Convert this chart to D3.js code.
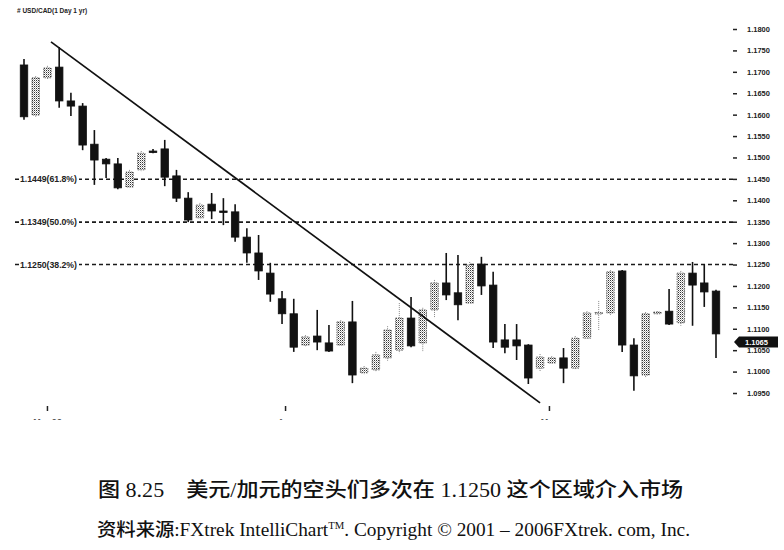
<!DOCTYPE html>
<html><head><meta charset="utf-8">
<script src="https://cdn.jsdelivr.net/npm/d3@7"></script>
<style>body{margin:0;background:#fff}svg{display:block}</style>
</head><body><svg id="c" width="784" height="550"></svg>
<script>
// ---------- data ----------
const opens  = [1.1716,1.1599,1.1686,1.1711,1.1632,1.1620,1.1531,1.1496,1.1485,1.1431,1.1471,1.1515,1.1520,1.1457,1.1405,1.1359,1.1391,1.1375,1.1373,1.1314,1.1277,1.1230,1.1170,1.1135,1.1062,1.1083,1.1067,1.1062,1.1116,1.0997,1.1004,1.1032,1.1050,1.1125,1.1067,1.1144,1.1207,1.1184,1.1160,1.1251,1.1202,1.1074,1.1074,1.1062,1.1008,1.1020,1.1032,1.1008,1.1078,1.1137,1.1137,1.1235,1.1062,1.0992,1.1135,1.1141,1.1114,1.1230,1.1207,1.1188];
const highs  = [1.1730,1.1690,1.1714,1.1758,1.1651,1.1627,1.1564,1.1499,1.1499,1.1471,1.1515,1.1520,1.1541,1.1471,1.1419,1.1394,1.1417,1.1405,1.1391,1.1335,1.1319,1.1254,1.1188,1.1170,1.1085,1.1144,1.1109,1.1120,1.1165,1.1013,1.1046,1.1106,1.1160,1.1174,1.1149,1.1214,1.1277,1.1272,1.1256,1.1268,1.1233,1.1111,1.1111,1.1064,1.1041,1.1036,1.1055,1.1083,1.1141,1.1165,1.1237,1.1237,1.1078,1.1139,1.1141,1.1193,1.1235,1.1256,1.1251,1.1191];
const lows   = [1.1588,1.1595,1.1683,1.1616,1.1597,1.1517,1.1436,1.1452,1.1426,1.1429,1.1468,1.1510,1.1433,1.1396,1.1349,1.1356,1.1356,1.1342,1.1303,1.1254,1.1214,1.1163,1.1111,1.1046,1.1057,1.1050,1.1046,1.1060,1.0973,1.0994,1.0999,1.1025,1.1043,1.1057,1.1046,1.1125,1.1167,1.1120,1.1158,1.1179,1.1055,1.1043,1.1027,1.0971,1.1001,1.1018,1.0973,1.1004,1.1076,1.1095,1.1132,1.1046,1.0955,1.0987,1.1132,1.1109,1.1107,1.1107,1.1151,1.1032];
const closes = [1.1595,1.1686,1.1709,1.1632,1.1620,1.1529,1.1494,1.1485,1.1429,1.1466,1.1510,1.1514,1.1454,1.1405,1.1354,1.1389,1.1375,1.1374,1.1314,1.1277,1.1235,1.1181,1.1135,1.1057,1.1081,1.1069,1.1048,1.1116,1.0992,1.1008,1.1039,1.1097,1.1125,1.1060,1.1144,1.1207,1.1179,1.1156,1.1249,1.1200,1.1069,1.1057,1.1060,1.0985,1.1034,1.1032,1.1008,1.1078,1.1137,1.1138,1.1233,1.1062,1.0990,1.1135,1.1139,1.1111,1.1230,1.1202,1.1186,1.1088];
const priceTicks = d3.range(0, 18).map(i => +(1.095 + i * 0.005).toFixed(4));
const fibLevels = [1.1449, 1.1349, 1.1250];
const fibLabels = ["1.1449(61.8%)", "1.1349(50.0%)", "1.1250(38.2%)"];
const trendIdx = [2.3, 44.0];
const trendPrice = [1.1770, 1.0927];
const xTickIdx = [2, 22.3, 44.8];
const xTickLabels = ["Mar 06", "Apr", "May"];
const lastPriceLabel = "1.1065";
const chartTitle = "# USD/CAD(1 Day 1 yr)";
const caption1 = "图 8.25    美元/加元的空头们多次在 1.1250 这个区域介入市场";

// ---------- scales ----------
const n = opens.length;
const svg = d3.select("#c");
const x = d3.scaleLinear().domain([0, n - 1]).range([24, 716]);
const y = d3.scaleLinear().domain([1.095, 1.18]).range([393, 29]);
const bodyW = 7.5;

// hatch pattern
const defs = svg.append("defs");
const pat = defs.append("pattern").attr("id","hatch").attr("patternUnits","userSpaceOnUse")
  .attr("width",2).attr("height",2);
pat.append("rect").attr("width",2).attr("height",2).attr("fill","#fff");
pat.append("rect").attr("width",1).attr("height",1).attr("fill","#333");
pat.append("rect").attr("x",1).attr("y",1).attr("width",1).attr("height",0.7).attr("fill","#888");
defs.append("clipPath").attr("id","xclip").append("rect").attr("x",0).attr("y",0).attr("width",784).attr("height",420);

// title
svg.append("text").attr("x",17).attr("y",13).text(chartTitle)
  .attr("font-family","Liberation Sans, Arial").attr("font-weight","bold").attr("font-size",6.5).attr("fill","#222");

// fib dashed lines
const fib = svg.append("g");
fibLevels.forEach((p,i) => {
  fib.append("line").attr("x1",15).attr("x2",736).attr("y1",y(p)).attr("y2",y(p))
    .attr("stroke","#1a1a1a").attr("stroke-width",1.6).attr("stroke-dasharray","4,3");
  fib.append("rect").attr("x",19).attr("y",y(p)-5).attr("width",60).attr("height",10).attr("fill","#fff");
  fib.append("text").attr("x",20).attr("y",y(p)+3).text(fibLabels[i])
    .attr("font-family","Liberation Sans, Arial").attr("font-weight","bold").attr("font-size",8.3)
    .attr("textLength",57).attr("lengthAdjust","spacingAndGlyphs").attr("fill","#222");
});

// right axis
const ax = svg.append("g").attr("transform","translate(733,0)")
  .call(d3.axisRight(y).tickValues(priceTicks).tickFormat(d3.format(".4f")).tickSize(4).tickPadding(10));
ax.select(".domain").remove();
ax.selectAll("line").attr("stroke","#222").attr("stroke-width",1.5);
ax.selectAll("text").attr("font-family","Liberation Sans, Arial").attr("font-weight","bold").attr("font-size",7.5).attr("fill","#222");

// x-axis ticks (labels cut off at image edge)
const xg = svg.append("g").attr("clip-path","url(#xclip)");
xTickIdx.forEach((t,i) => {
  xg.append("line").attr("x1",x(t)).attr("x2",x(t)).attr("y1",406).attr("y2",411).attr("stroke","#222").attr("stroke-width",1.5);
  xg.append("text").attr("x",x(t)).attr("y",425).attr("text-anchor","middle").text(xTickLabels[i])
    .attr("font-family","Liberation Sans, Arial").attr("font-weight","bold").attr("font-size",9).attr("fill","#555");
});

// candles
const data = d3.range(n).map(i => ({i, o:opens[i], h:highs[i], l:lows[i], c:closes[i]}));
const g = svg.append("g");
const cs = g.selectAll("g").data(data).join("g");
cs.append("line").attr("x1",d=>x(d.i)).attr("x2",d=>x(d.i))
  .attr("y1",d=>y(d.h)).attr("y2",d=>y(d.l))
  .attr("stroke",d=>d.c>d.o?"#888":"#111").attr("stroke-width",d=>d.c>d.o?1:1.6)
  .attr("stroke-dasharray",d=>d.c>d.o?"1,1":null);
cs.append("rect").attr("x",d=>x(d.i)-bodyW/2).attr("width",bodyW)
  .attr("y",d=>y(Math.max(d.o,d.c)))
  .attr("height",d=>Math.max(1.5, Math.abs(y(d.o)-y(d.c))))
  .attr("fill",d=>d.c>d.o?"url(#hatch)":"#111")
  .attr("stroke",d=>d.c>d.o?"#555":"#111").attr("stroke-width",0.8)
  .attr("stroke-dasharray",d=>d.c>d.o?"1.5,1":null);

// trendline
svg.append("line").attr("x1",x(trendIdx[0])).attr("y1",y(trendPrice[0]))
  .attr("x2",x(trendIdx[1])).attr("y2",y(trendPrice[1]))
  .attr("stroke","#111").attr("stroke-width",1.7);

// last price box
const lp = y(closes[n-1]) + 8;
svg.append("path").attr("d",`M734,${lp} L739,${lp-5.5} L778,${lp-5.5} L778,${lp+5.5} L739,${lp+5.5} Z`).attr("fill","#111");
svg.append("text").attr("x",745).attr("y",lp+2.7).text(lastPriceLabel)
  .attr("font-family","Liberation Sans, Arial").attr("font-weight","bold").attr("font-size",7.5).attr("fill","#fff");

// captions
svg.append("text").attr("x",98).attr("y",497).style("white-space","pre").text(caption1)
  .attr("font-family","Liberation Serif, Noto Sans CJK SC").attr("font-size",20).attr("font-weight",500)
  .attr("textLength",585).attr("lengthAdjust","spacingAndGlyphs").attr("fill","#111");
const c2 = svg.append("text").attr("x",97).attr("y",536)
  .attr("font-family","Liberation Serif, Noto Sans CJK SC").attr("font-size",18).attr("font-weight",500)
  .attr("textLength",593).attr("lengthAdjust","spacingAndGlyphs").attr("fill","#111");
c2.append("tspan").text("资料来源:FXtrek IntelliChart");
c2.append("tspan").attr("dy",-7).attr("font-size",10).text("TM");
c2.append("tspan").attr("dy",7).text(". Copyright © 2001 – 2006FXtrek. com, Inc.");
</script></body></html>
